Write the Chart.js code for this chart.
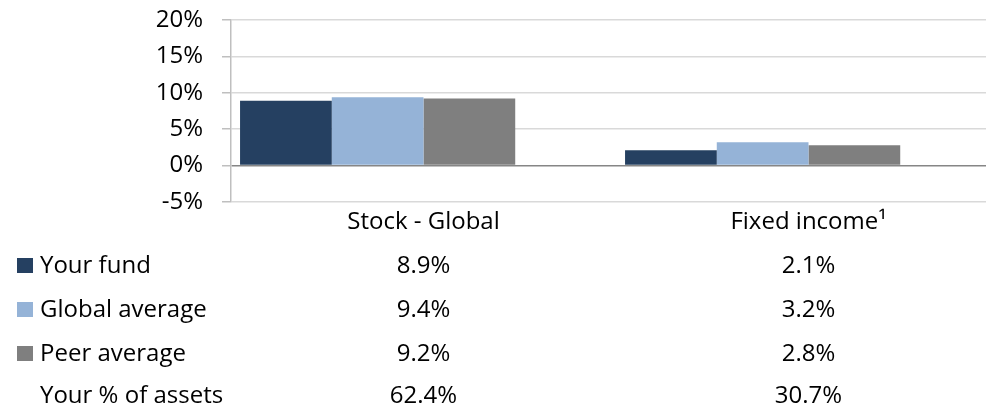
<!DOCTYPE html>
<html lang="en">

<head>
    <meta charset="UTF-8">
    <script src="https://cdn.jsdelivr.net/npm/chart.js"></script>
    <title>Asset class returns</title>
    <style>
        body { margin: 0; overflow: hidden; background: #fff; }
        #wrap { position: absolute; left: 0; top: 0; width: 1010px; height: 411px; }
    </style>
</head>

<body>
    <div id="wrap"><canvas id="chart"></canvas></div>
    <script>
        const categories = ['Stock - Global', 'Fixed income\u00b9']
        const yourFund = [8.9, 2.1]
        const globalAverage = [9.4, 3.2]
        const peerAverage = [9.2, 2.8]
        const yourAssets = [62.4, 30.7]
        const yTicks = [-5, 0, 5, 10, 15, 20]

        const FONT = "'Open Sans'"
        const FONT_SIZE = 24

        const rows = [
            { label: 'Your fund', data: yourFund, color: '#254061' },
            { label: 'Global average', data: globalAverage, color: '#95b3d7' },
            { label: 'Peer average', data: peerAverage, color: '#7f7f7f' },
            { label: 'Your % of assets', data: yourAssets, color: null }
        ]

        // data table under the plot, laid out on the x scale
        const dataTable = {
            id: 'data_table',
            afterDraw: (chart) => {
                const ctx = chart.ctx
                const x = chart.scales.x
                const baselines = [273, 317, 361, 403]
                ctx.save()
                ctx.font = FONT_SIZE + 'px ' + FONT
                ctx.textBaseline = 'alphabetic'
                rows.forEach((row, i) => {
                    const y = baselines[i]
                    if (row.color) {
                        ctx.fillStyle = row.color
                        ctx.fillRect(17, y - 15, 16, 15)
                    }
                    ctx.fillStyle = '#000'
                    ctx.textAlign = 'left'
                    ctx.fillText(row.label, 40, y)
                    ctx.textAlign = 'center'
                    row.data.forEach((v, j) => {
                        ctx.fillText(v.toFixed(1) + '%', x.getPixelForValue(j), y)
                    })
                })
                ctx.restore()
            }
        }

        const config = {
            type: 'bar',
            data: {
                labels: categories,
                datasets: rows.map(r => ({
                    label: r.label,
                    data: r.data,
                    backgroundColor: r.color || 'rgba(0,0,0,0)',
                    borderWidth: 0
                }))
            },
            options: {
                responsive: true,
                maintainAspectRatio: false,
                animation: false,
                layout: { padding: { top: 20, right: 9, bottom: 0, left: 0 } },
                datasets: { bar: { categoryPercentage: 0.953, barPercentage: 1 } },
                plugins: { legend: { display: false }, tooltip: { enabled: false } },
                scales: {
                    x: {
                        grid: { display: false, drawTicks: false },
                        border: { display: false },
                        ticks: { color: '#000', font: { family: FONT, size: FONT_SIZE }, padding: 6 },
                        afterFit: (s) => { s.height = 209 }
                    },
                    y: {
                        min: yTicks[0],
                        max: yTicks[yTicks.length - 1],
                        afterBuildTicks: (s) => { s.ticks = yTicks.map(v => ({ value: v })) },
                        ticks: {
                            color: '#000',
                            padding: 19,
                            font: { family: FONT, size: FONT_SIZE },
                            callback: (v) => v + '%'
                        },
                        grid: {
                            color: (c) => c.tick && c.tick.value === 0 ? '#868686' : '#d9d9d9',
                            lineWidth: 1.5,
                            tickLength: 9,
                            tickColor: '#bfbfbf'
                        },
                        border: { color: '#bfbfbf', width: 1.5 },
                        afterFit: (s) => { s.width = 231; s.paddingTop = 0; s.paddingBottom = 0 }
                    }
                }
            },
            plugins: [dataTable]
        }

        new Chart(document.getElementById('chart'), config)
    </script>
</body>

</html>
